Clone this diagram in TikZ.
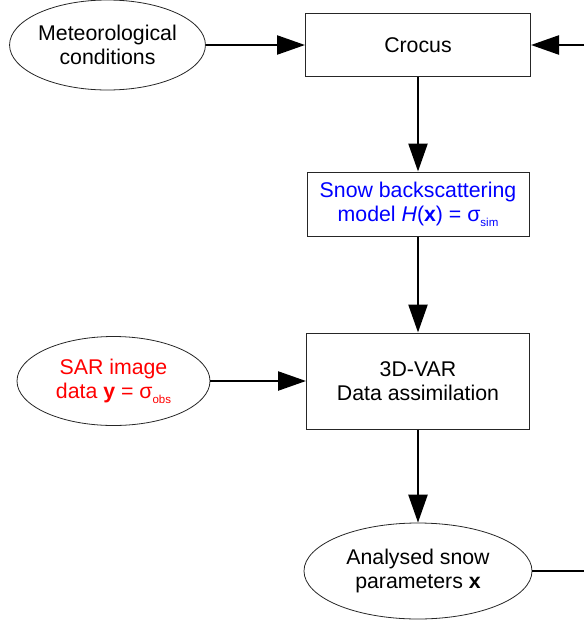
\documentclass[tikz,border=0pt]{standalone}
\usepackage{fontspec}
\setmainfont{Liberation Sans}
\usetikzlibrary{positioning}
\usetikzlibrary{arrows.meta}
\usetikzlibrary{shapes.geometric}
\tikzset{
        flownode/.style={align=center,inner sep=0pt,font=\fontsize{21.3}{24}\selectfont},
        % Process boxes
        node_box/.style={flownode, rectangle, draw=black!85, line width=1pt},
        % Data ellipses
        node_data/.style={flownode, ellipse, draw=black!85, line width=0.8pt},
        % Arrows between nodes
        flow/.style={line width=2.4pt, -{Triangle[length=28pt,width=19pt]}}
}
\newcommand{\lowsub}[1]{\raisebox{-5pt}{\fontsize{11.5}{11.5}\selectfont #1}}

\begin{document}
\begin{tikzpicture}[x=1pt, y=-1pt]
            \useasboundingbox (0,0) rectangle (584,624);
            \node[node_box, minimum width=225pt, minimum height=63pt] (crocus) at (418,45) {Crocus};
            \node[node_box, minimum width=222pt, minimum height=64pt, text=blue] (snow) at (418,204)
                {Snow backscattering\\model \textit{H}(\textbf{x}) = σ\lowsub{sim}};
            \node[node_box, minimum width=223pt, minimum height=96pt] (da) at (418,381)
                {3D-VAR\\Data assimilation};
            \node[node_data, minimum width=193pt, minimum height=90pt] (meteo) at (107.5,45)
                {Meteorological\\conditions};
            \node[node_data, minimum width=193pt, minimum height=89pt, text=red] (sar) at (113.5,381)
                {SAR image\\data \textbf{y} = σ\lowsub{obs}};
            \node[node_data, minimum width=228pt, minimum height=96pt] (ana) at (418,571)
                {Analysed snow\\parameters \textbf{x}};
            \coordinate (loopout) at (584,571);
            \coordinate (loopin) at (584,45);

            \draw[flow] (meteo) -- (crocus);
            \draw[flow] (loopin) -- (crocus);
            \draw[flow] (crocus) -- (snow);
            \draw[flow] (snow) -- (da);
            \draw[flow] (sar) -- (da);
            \draw[flow] (da) -- (ana);
            \draw[line width=2.4pt] (ana.east) -- (loopout);
\end{tikzpicture}
\end{document}
